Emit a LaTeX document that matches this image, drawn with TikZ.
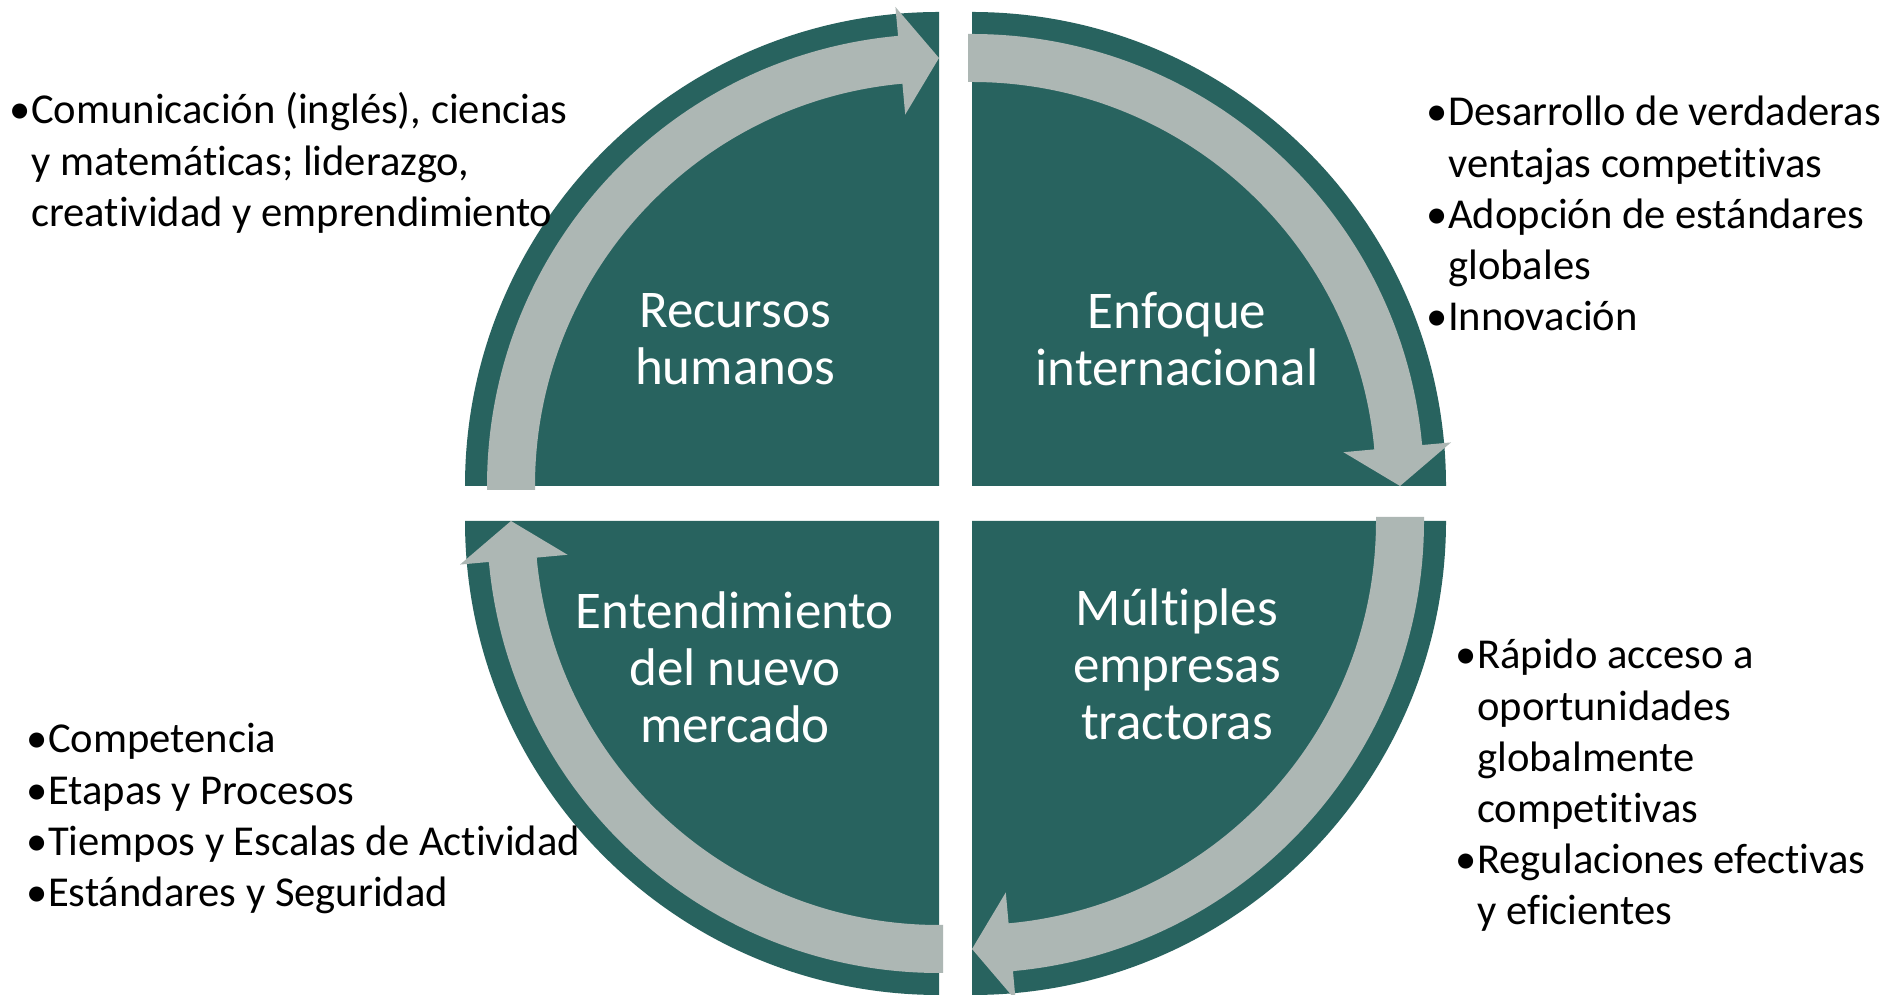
\documentclass[tikz,border=0pt]{standalone}
\usepackage{fontspec}
\setmainfont{Carlito}[Ligatures=NoCommon]
\usetikzlibrary{calc}
\definecolor{qgreen}{RGB}{40,99,95}
\definecolor{qgray}{RGB}{173,183,180}
\newcommand\qarrow[1]{%
  \pgfmathsetmacro\aO{#1}%
  \pgfmathsetmacro\aE{#1-90}%
  \pgfmathsetmacro\aB{#1-90+5.2}%
  \pgfmathsetmacro\aX{#1+90}%
  \fill[qgray] ($(\aO:452pt)+(\aX:4pt)$) -- (\aO:452pt)
    arc[start angle=\aO, end angle=\aB, radius=452pt]
    -- (\aB:481pt) -- (\aE:428pt) -- (\aB:373pt) -- (\aB:404pt)
    arc[start angle=\aB, end angle=\aO, radius=404pt]
    -- ($(\aO:404pt)+(\aX:4pt)$) -- cycle;
}
\newcommand\bi{\makebox[22pt][l]{•}}
\newcommand\bs{\hspace*{22pt}}
\tikzset{
  lab/.style={text=white, align=center, font=\fontsize{53}{57}\selectfont, inner sep=0pt},
  blist/.style={anchor=base west, inner sep=0pt, font=\fontsize{42.6}{51.2}\selectfont},
  quad/.style={fill=qgreen}
}
\begin{document}
\begin{tikzpicture}[x=1pt,y=1pt]
\useasboundingbox[fill=white] (0,0) rectangle (1887,995);
% quadrants
\fill[quad] (939,509) -- ++(-474,0) arc[start angle=180,end angle=90,radius=474pt] -- cycle;
\fill[quad] (972,509) -- ++(0,474) arc[start angle=90,end angle=0,radius=474pt] -- cycle;
\fill[quad] (972,474) -- ++(474,0) arc[start angle=0,end angle=-90,radius=474pt] -- cycle;
\fill[quad] (939,474) -- ++(0,-474) arc[start angle=270,end angle=180,radius=474pt] -- cycle;
% arrows
\begin{scope}[shift={(939,509)}]\qarrow{180}\end{scope}
\begin{scope}[shift={(972,509)}]\qarrow{90}\end{scope}
\begin{scope}[shift={(972,474)}]\qarrow{0}\end{scope}
\begin{scope}[shift={(939,474)}]\qarrow{-90}\end{scope}
% labels
\node[lab] (rh) at (735,656) {Recursos\\humanos};
\node[lab] (ei) at (1177,656) {Enfoque\\internacional};
\node[lab] (en) at (735,328) {Entendimiento\\del nuevo\\mercado};
\node[lab] (me) at (1177,331) {Múltiples\\empresas\\tractoras};
% bullet lists
\node[blist] (ltl) at (9,871) {\parbox[t]{700pt}{\bi Comunicación (inglés), ciencias\\\bs y matemáticas; liderazgo,\\\bs creatividad y emprendimiento}};
\node[blist] (ltr) at (1426,869) {\parbox[t]{700pt}{\bi Desarrollo de verdaderas\\\bs ventajas competitivas\\\bi Adopción de estándares\\\bs globales\\\bi Innovación}};
\node[blist] (lbr) at (1455,326) {\parbox[t]{700pt}{\bi Rápido acceso a\\\bs oportunidades\\\bs globalmente\\\bs competitivas\\\bi Regulaciones efectivas\\\bs y eficientes}};
\node[blist] (lbl) at (26,242) {\parbox[t]{700pt}{\bi Competencia\\\bi Etapas y Procesos\\\bi Tiempos y Escalas de Actividad\\\bi Estándares y Seguridad}};
\end{tikzpicture}
\end{document}
